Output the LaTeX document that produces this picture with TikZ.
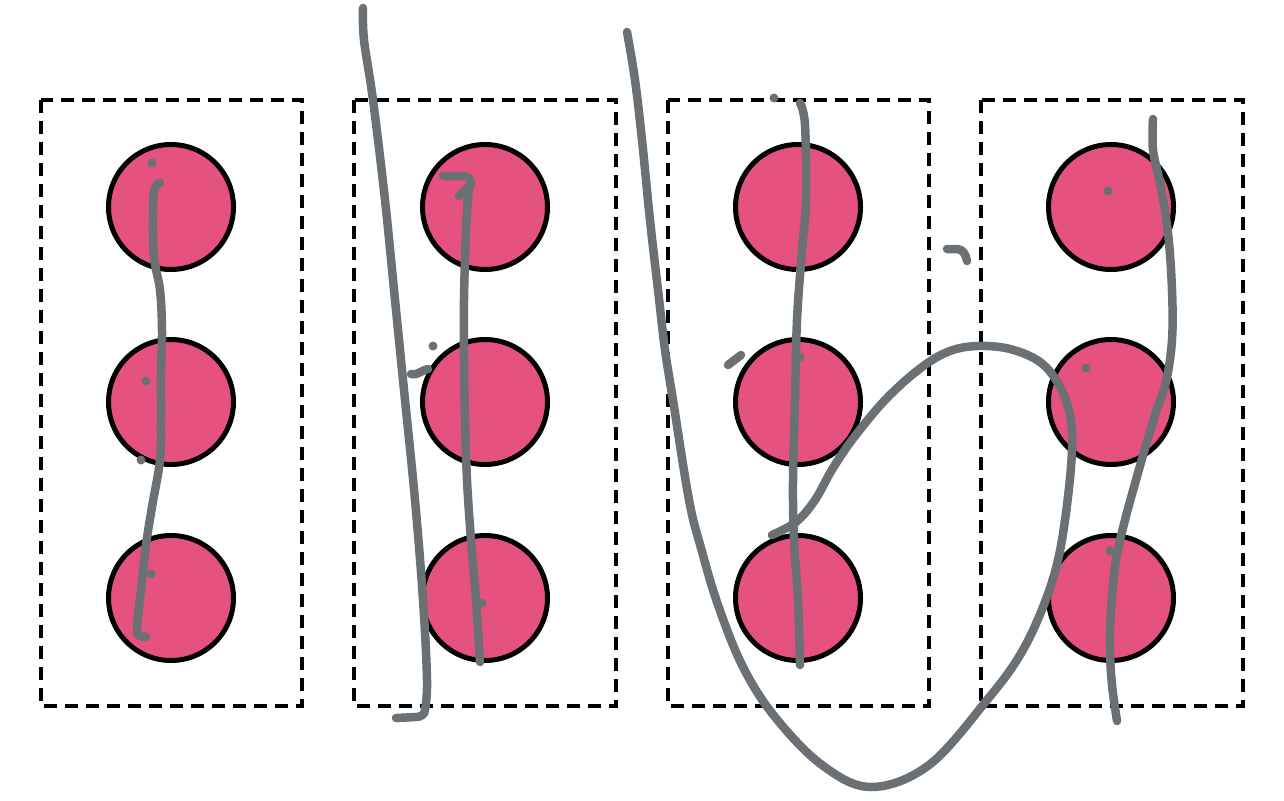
\documentclass[tikz,border=0pt]{standalone}
\usetikzlibrary{calc}
\definecolor{pinkfill}{HTML}{E5527F}
\definecolor{pen}{HTML}{6B7075}
\tikzset{
  ball/.style={circle, draw=black, fill=pinkfill, line width=5pt, minimum size=125pt, inner sep=0pt},
  frame/.style={draw=black, line width=3.3pt, dash pattern=on 13pt off 8pt},
  ink/.style={draw=pen, line width=8.5pt, line cap=round, line join=round},
  dot/.style={fill=pen},
}
\begin{document}
\begin{tikzpicture}[x=1pt,y=-1pt]
\useasboundingbox (0,0) rectangle (1284,800);
% frames
\foreach \xa/\xb in {41/302,354/616,668/929,981/1243}
  \draw[frame] (\xa,100) rectangle (\xb,706);
% balls
\foreach \c/\x in {1/171,2/485,3/798,4/1111}{
  \node[ball] (b\c t) at (\x,207) {};
  \node[ball] (b\c m) at (\x,402) {};
  \node[ball] (b\c b) at (\x,598) {};
}
% column 1 stroke
\draw[ink] plot[smooth, tension=0.6] coordinates {(160,183) (154,191) (153,223) (154,258) (160,290) (162,330) (161,373) (161,420) (160,460) (152,507) (146,545) (141,590) (137,625)} -- (137,632) to[out=270,in=180] (146,637);
% column 2 left long stroke
\draw[ink] plot[smooth, tension=0.6] coordinates {(363,8) (364,40) (373,100) (385,200) (395,300) (404,390) (415,500) (423,600) (427,680) (425,710)} to[out=270,in=0] (416,717) -- (396,718);
% column 2 inner stroke
\draw[ink] (443,176) -- (464,176) to[out=0,in=80] (471,185) -- (459,196);
\draw[ink] plot[smooth, tension=0.6] coordinates {(469,186) (466,230) (464,300) (464,360) (465,420) (467,480) (471,540) (476,600) (480,662)};
\draw[ink] (411,374) to[out=-15,in=190] (428,369);
% big U stroke
\draw[ink] plot[smooth, tension=0.6] coordinates {(627,32) (635,80) (642,140) (650,220) (658,290) (665,350) (673,400) (689,500) (701,548) (718,605) (743,667) (775,717) (822,765) (871,787) (929,765) (987,700) (1020,655) (1043,607) (1058,560) (1067,505) (1072,450) (1070,415) (1059,385) (1040,362) (1010,349) (978,346) (950,351) (922,367) (887,398) (855,436) (833,468) (815,500) (796,522) (772,535)};
% column 3 vertical stroke
\draw[ink] plot[smooth, tension=0.6] coordinates {(800,103) (805,125) (806,200) (802,250) (797,320) (795,400) (793,480) (794,540) (798,600) (800,665)};
\draw[ink] (728,365) -- (741,355);
% hook between col 3 and 4
\draw[ink] (947,249) -- (957,249) to[out=0,in=100] (967,261);
% column 4 stroke
\draw[ink] plot[smooth, tension=0.6] coordinates {(1153,119) (1153,150) (1160,183) (1168,233) (1172,290) (1172,340) (1166,382) (1156,412) (1146,445) (1136,480) (1125,520) (1116,560) (1111,610) (1110,650) (1112,685) (1117,721)};
% dots
\foreach \p in {(152,163),(146,381),(141,460),(151,574),(433,346),(482,603),(774,98),(800,357),(1108,191),(1086,368),(1110,551)}
  \fill[dot] \p circle (4.5pt);
\end{tikzpicture}
\end{document}
